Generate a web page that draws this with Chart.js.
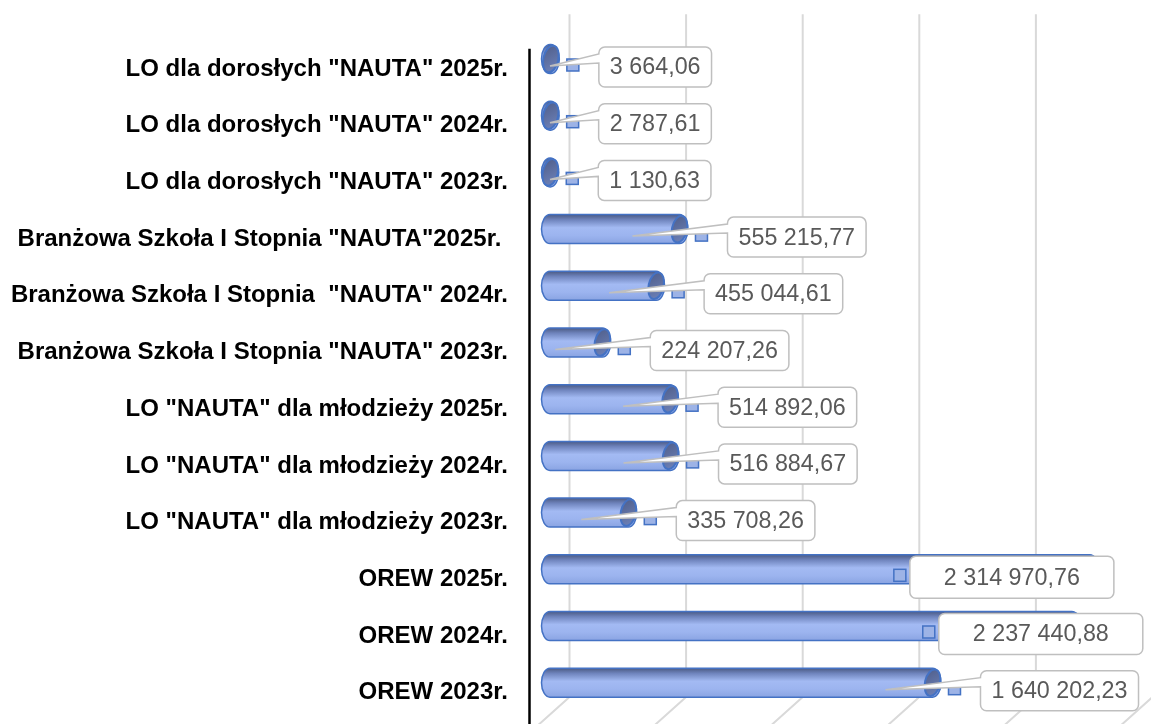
<!DOCTYPE html>
<html>
<head>
<meta charset="utf-8">
<script src="https://cdn.jsdelivr.net/npm/chart.js@4.4.0/dist/chart.umd.min.js"></script>
<style>
  html, body { margin: 0; padding: 0; background: #ffffff; }
  #wrap { width: 1151px; height: 724px; position: relative; }
</style>
</head>
<body>
<div id="wrap"><canvas id="c" width="1151" height="724"></canvas></div>
<script>
// ---- data ----
const categories = [
  'LO dla dorosłych "NAUTA" 2025r.',
  'LO dla dorosłych "NAUTA" 2024r.',
  'LO dla dorosłych "NAUTA" 2023r.',
  'Branżowa Szkoła I Stopnia "NAUTA"2025r. ',
  'Branżowa Szkoła I Stopnia  "NAUTA" 2024r.',
  'Branżowa Szkoła I Stopnia "NAUTA" 2023r.',
  'LO "NAUTA" dla młodzieży 2025r.',
  'LO "NAUTA" dla młodzieży 2024r.',
  'LO "NAUTA" dla młodzieży 2023r.',
  'OREW 2025r.',
  'OREW 2024r.',
  'OREW 2023r.'
];
const values = [
  3664.06, 2787.61, 1130.63,
  555215.77, 455044.61, 224207.26,
  514892.06, 516884.67, 335708.26,
  2314970.76, 2237440.88, 1640202.23
];
const xTickValues = [0, 500000, 1000000, 1500000, 2000000, 2500000];

// ---- helpers ----
function fmtPL(v) {
  const parts = v.toFixed(2).split('.');
  const intPart = parts[0].replace(/\B(?=(\d{3})+(?!\d))/g, ' ');
  return intPart + ',' + parts[1];
}

// label layout overrides (by category index): box offset from bar end, padding, key offset
const labelOverrides = {
  9:  { dx: -180, pad: 34, key: 10, h: 42 },
  10: { dx: -133, pad: 34, key: 10, h: 41 }
};

const cylinderPlugin = {
  id: 'cylinder',
  beforeDatasetsDraw(chart) {
    const ctx = chart.ctx, ca = chart.chartArea, xs = chart.scales.x;
    ctx.save();
    // back wall gridlines + floor slants
    ctx.strokeStyle = '#d9d9d9';
    ctx.lineWidth = 2;
    const topY = ca.top - 16.5;
    const floorY = ca.bottom - 14;
    xTickValues.forEach(v => {
      const gx = xs.getPixelForValue(v) + 19.5;
      ctx.beginPath();
      ctx.moveTo(gx, topY);
      ctx.lineTo(gx, floorY);
      ctx.lineTo(gx - 38, floorY + 34);
      ctx.stroke();
    });
    // front vertical axis line
    ctx.strokeStyle = '#000000';
    ctx.lineWidth = 2.5;
    ctx.beginPath();
    ctx.moveTo(ca.left - 20.5, ca.top + 18);
    ctx.lineTo(ca.left - 20.5, chart.height);
    ctx.stroke();
    ctx.restore();
  },
  afterDatasetsDraw(chart) {
    const ctx = chart.ctx;
    const meta = chart.getDatasetMeta(0);
    ctx.save();
    // bars as cylinders
    meta.data.forEach((el) => {
      const x0 = el.base, x1 = el.x, yc = el.y;
      const ry = el.height / 2, rx = 8.5;
      const g = ctx.createLinearGradient(0, yc - ry, 0, yc + ry);
      g.addColorStop(0, '#4b5a83');
      g.addColorStop(0.18, '#6f84bd');
      g.addColorStop(0.45, '#a3baf3');
      g.addColorStop(0.72, '#9cb4ef');
      g.addColorStop(1, '#8aa4e2');
      ctx.beginPath();
      ctx.moveTo(x1, yc - ry);
      ctx.lineTo(x0, yc - ry);
      ctx.ellipse(x0, yc, rx, ry, 0, -Math.PI / 2, Math.PI / 2, true);
      ctx.lineTo(x1, yc + ry);
      ctx.ellipse(x1, yc, rx, ry, 0, Math.PI / 2, -Math.PI / 2, true);
      ctx.closePath();
      ctx.fillStyle = g;
      ctx.fill();
      ctx.strokeStyle = '#4472c4';
      ctx.lineWidth = 1.5;
      ctx.stroke();
      // end face
      const gf = ctx.createLinearGradient(x1 - rx, yc - ry, x1 + rx, yc + ry);
      gf.addColorStop(0, '#4d5b86');
      gf.addColorStop(1, '#7186bf');
      ctx.beginPath();
      ctx.ellipse(x1, yc, rx - 1, ry - 1, 0.22, 0, Math.PI * 2);
      ctx.fillStyle = gf;
      ctx.fill();
      ctx.strokeStyle = '#4472c4';
      ctx.lineWidth = 2;
      ctx.stroke();
    });
    // data labels with callouts
    ctx.font = '23.3px "Liberation Sans", Arial, sans-serif';
    meta.data.forEach((el, i) => {
      const x0 = el.base, x1 = el.x, yc = el.y;
      const ov = labelOverrides[i] || {};
      const text = fmtPL(values[i]);
      const tw = ctx.measureText(text).width;
      const pad = ov.pad != null ? ov.pad : 11;
      const boxW = tw + 2 * pad;
      const boxH = ov.h || 40;
      const boxL = x1 + (ov.dx != null ? ov.dx : 48);
      const boxT = yc + 8 - boxH / 2;
      const boxR = boxL + boxW, boxB = boxT + boxH;
      // legend key square
      const kx = boxL - (ov.key != null ? ov.key : 26);
      const ky = yc + 6;
      ctx.fillStyle = '#9db3e6';
      ctx.fillRect(kx - 6, ky - 6, 12, 12);
      ctx.strokeStyle = '#4472c4';
      ctx.lineWidth = 1.5;
      ctx.strokeRect(kx - 6, ky - 6, 12, 12);
      // callout box
      const px = Math.max(x0, x1 - 47), py = yc + 7;
      const r = 6;
      ctx.beginPath();
      ctx.moveTo(boxL + r, boxT);
      ctx.lineTo(boxR - r, boxT);
      ctx.arcTo(boxR, boxT, boxR, boxT + r, r);
      ctx.lineTo(boxR, boxB - r);
      ctx.arcTo(boxR, boxB, boxR - r, boxB, r);
      ctx.lineTo(boxL + r, boxB);
      ctx.arcTo(boxL, boxB, boxL, boxB - r, r);
      if (px < boxL - 5) {
        ctx.lineTo(boxL, boxT + 16);
        ctx.lineTo(px, py);
        ctx.lineTo(boxL, boxT + 7);
      }
      ctx.lineTo(boxL, boxT + r);
      ctx.arcTo(boxL, boxT, boxL + r, boxT, r);
      ctx.closePath();
      ctx.fillStyle = '#ffffff';
      ctx.fill();
      ctx.strokeStyle = '#bfbfbf';
      ctx.lineWidth = 1.5;
      ctx.stroke();
      // text
      ctx.fillStyle = '#595959';
      ctx.textAlign = 'center';
      ctx.textBaseline = 'middle';
      ctx.fillText(text, boxL + boxW / 2, boxT + boxH / 2 + 1);
    });
    ctx.restore();
  }
};

new Chart(document.getElementById('c'), {
  type: 'bar',
  data: {
    labels: categories,
    datasets: [{
      data: values,
      backgroundColor: 'rgba(0,0,0,0)',
      borderWidth: 0,
      barPercentage: 0.512,
      categoryPercentage: 1
    }]
  },
  options: {
    indexAxis: 'y',
    responsive: false,
    animation: false,
    layout: { padding: { top: 30.65, bottom: 12.95, left: 0, right: 18 } },
    plugins: { legend: { display: false }, tooltip: { enabled: false } },
    scales: {
      x: { display: false, min: 0, max: 2500000 },
      y: {
        afterFit(scale) {
          scale.width = 550;
          scale.paddingTop = 0;
          scale.paddingBottom = 0;
        },
        grid: { display: false, drawTicks: false },
        border: { display: false },
        ticks: {
          color: '#000000',
          padding: 42,
          labelOffset: 10,
          font: { family: '"Liberation Sans", Arial, sans-serif', size: 24, weight: 'bold' }
        }
      }
    }
  },
  plugins: [cylinderPlugin]
});
</script>
</body>
</html>
